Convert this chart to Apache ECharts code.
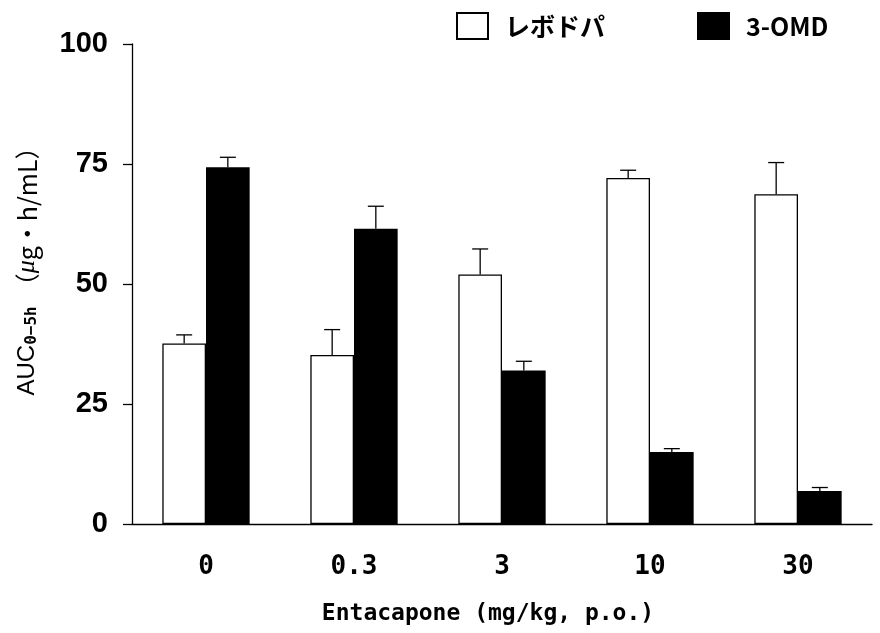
<!DOCTYPE html>
<html>
<head>
<meta charset="utf-8">
<script src="https://cdn.jsdelivr.net/npm/echarts@6/dist/echarts.min.js"></script>
<style>html,body{margin:0;padding:0;background:#fff;}#c{width:880px;height:633px;}</style>
</head>
<body>
<div id="c"></div>
<script>
const categories = ['0', '0.3', '3', '10', '30'];
const levodopa = [37.6, 35.2, 52.0, 72.1, 68.7];
const levodopaErr = [1.8, 5.3, 5.3, 1.6, 6.6];
const omd = [74.3, 61.5, 32.0, 15.0, 6.9];
const omdErr = [2.1, 4.7, 1.9, 0.7, 0.7];
const yTicks = [0, 25, 50, 75, 100];

const BAR_FRAC = 0.295;
const chart = echarts.init(document.getElementById('c'));

function errRender(sign) {
  return function (params, api) {
    const i = api.value(0), v = api.value(1), e = api.value(2);
    const base = api.coord([i, v]);
    const top = api.coord([i, v + e]);
    const bw = api.size([1, 0])[0];
    const x = base[0] + sign * bw * BAR_FRAC / 2;
    const cap = 8;
    const st = { stroke: '#000', lineWidth: 1.3 };
    return {
      type: 'group',
      children: [
        { type: 'line', shape: { x1: x, y1: base[1], x2: x, y2: top[1] }, style: st },
        { type: 'line', shape: { x1: x - cap, y1: top[1], x2: x + cap, y2: top[1] }, style: st }
      ]
    };
  };
}

const monoFont = '"DejaVu Sans Mono", monospace';
const narrowFont = '"Liberation Sans Narrow", "Liberation Sans", sans-serif';
const jpFont = '"Noto Sans CJK JP", sans-serif';

chart.setOption({
  animation: false,
  backgroundColor: '#fff',
  grid: { left: 132, right: 8, top: 44, bottom: 109 },
  legend: {
    left: 456, top: 12, padding: 0,
    icon: 'rect',
    itemWidth: 31, itemHeight: 26, itemGap: 92,
    data: ['レボドパ', '3-OMD'],
    textStyle: { fontFamily: jpFont, fontWeight: 'bold', fontSize: 25, color: '#000', padding: [0, 0, 0, 12] },
    selectedMode: false
  },
  xAxis: {
    type: 'category',
    data: categories,
    axisLine: { lineStyle: { color: '#000', width: 1.3 } },
    axisTick: { length: 12, lineStyle: { color: '#000', width: 1.3 } },
    axisLabel: { color: '#000', fontFamily: monoFont, fontWeight: 'bold', fontSize: 26, margin: 30 },
    name: 'Entacapone (mg/kg, p.o.)',
    nameLocation: 'middle',
    nameGap: 79,
    nameTextStyle: { color: '#000', fontFamily: monoFont, fontWeight: 'bold', fontSize: 23, padding: [0, 28, 0, 0] }
  },
  yAxis: {
    type: 'value',
    min: yTicks[0], max: yTicks[yTicks.length - 1], interval: 25,
    axisLine: { show: true, lineStyle: { color: '#000', width: 1.3 } },
    axisTick: { show: true, length: 9, lineStyle: { color: '#000', width: 1.3 } },
    splitLine: { show: false },
    axisLabel: { color: '#000', fontFamily: narrowFont, fontWeight: 'bold', fontSize: 29, margin: 24 },
    name: '{a|AUC}{s|0−5h}{g| }{b|（}{m|μ}{b|g・h/mL）}',
    nameLocation: 'middle',
    nameRotate: 90,
    nameGap: 92,
    nameTextStyle: {
      padding: [0, 0, 0, 38],
      rich: {
        a: { fontFamily: '"Liberation Sans", sans-serif', fontSize: 24, color: '#000' },
        s: { fontFamily: monoFont, fontWeight: 'bold', fontSize: 16, color: '#000', verticalAlign: 'bottom', padding: [10, 0, 0, 0] },
        g: { fontSize: 10, width: 8 },
        b: { fontFamily: jpFont, fontSize: 25, color: '#000' },
        m: { fontFamily: '"Liberation Serif", serif', fontStyle: 'italic', fontSize: 26, color: '#000' }
      }
    }
  },
  series: [
    {
      name: 'レボドパ', type: 'bar', data: levodopa,
      barWidth: (BAR_FRAC * 100) + '%', barGap: '0%',
      itemStyle: { color: '#fff', borderColor: '#000', borderWidth: 1.3 },
      z: 2
    },
    {
      name: '3-OMD', type: 'bar', data: omd,
      barWidth: (BAR_FRAC * 100) + '%', barGap: '0%',
      itemStyle: { color: '#000', borderColor: '#000', borderWidth: 1.3 },
      z: 2
    },
    {
      type: 'custom', renderItem: errRender(-1), z: 3,
      data: levodopa.map((v, i) => [i, v, levodopaErr[i]])
    },
    {
      type: 'custom', renderItem: errRender(1), z: 3,
      data: omd.map((v, i) => [i, v, omdErr[i]])
    }
  ]
});
</script>
</body>
</html>
